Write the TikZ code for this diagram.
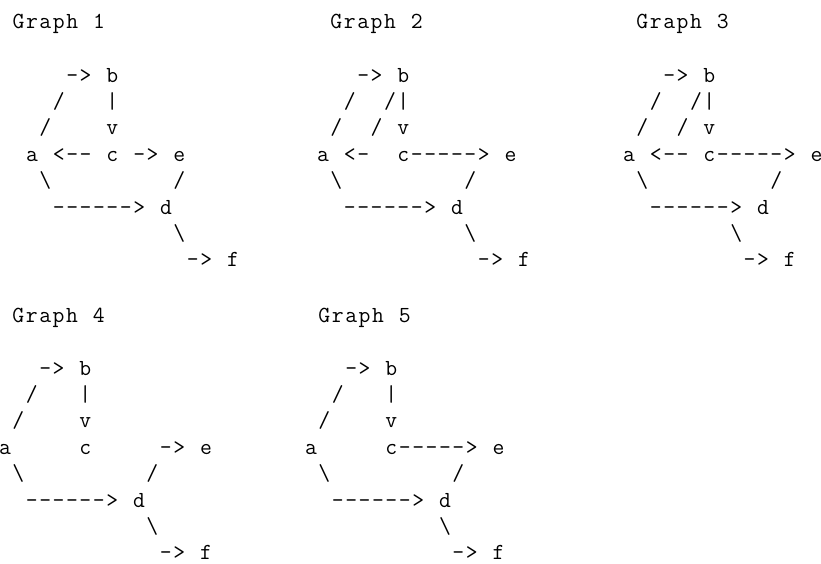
\documentclass[tikz,border=0pt]{standalone}
\newlength\cw
\setlength\cw{13.4pt}
\def\gl#1{\ifx#1\relax\else\makebox[\cw]{\ifx#1.\else#1\fi}\expandafter\gl\fi}
\def\bs{\textbackslash}
\tikzset{asc/.style={anchor=base west, inner sep=0pt, outer sep=0pt,
  text depth=0pt, font=\fontsize{23}{23}\selectfont\ttfamily}}
\begin{document}
\begin{tikzpicture}[x=1pt,y=-1pt]
\fill[white] (0,0) rectangle (821,563);
\useasboundingbox (0,0) rectangle (821,563);
% ---------- Graph 1 ----------
\node[asc] (g1t) at (11.9,28.5) {\gl Graph.1\relax};
\node[asc] (g1a) at (25.3,82.0) {\gl...->.b\relax};
\node[asc] (g1b) at (25.3,108.4) {\gl../...|\relax};
\node[asc] (g1c) at (25.3,134.8) {\gl./....v\relax};
\node[asc] (g1d) at (25.3,161.2) {\gl a.<--.c.->.e\relax};
\node[asc] (g1e) at (25.3,187.6) {\gl.\bs........./\relax};
\node[asc] (g1f) at (25.3,214.0) {\gl..------>.d\relax};
\node[asc] (g1g) at (25.3,240.4) {\gl...........\bs\relax};
\node[asc] (g1h) at (25.3,266.8) {\gl............->.f\relax};
% ---------- Graph 2 ----------
\node[asc] (g2t) at (329.7,28.5) {\gl Graph.2\relax};
\node[asc] (g2a) at (316.3,82.0) {\gl...->.b\relax};
\node[asc] (g2b) at (316.3,108.4) {\gl../../|\relax};
\node[asc] (g2c) at (316.3,134.8) {\gl./../.v\relax};
\node[asc] (g2d) at (316.3,161.2) {\gl a.<-..c----->.e\relax};
\node[asc] (g2e) at (316.3,187.6) {\gl.\bs........./\relax};
\node[asc] (g2f) at (316.3,214.0) {\gl..------>.d\relax};
\node[asc] (g2g) at (316.3,240.4) {\gl...........\bs\relax};
\node[asc] (g2h) at (316.3,266.8) {\gl............->.f\relax};
% ---------- Graph 3 ----------
\node[asc] (g3t) at (635.7,28.5) {\gl Graph.3\relax};
\node[asc] (g3a) at (622.3,82.0) {\gl...->.b\relax};
\node[asc] (g3b) at (622.3,108.4) {\gl../../|\relax};
\node[asc] (g3c) at (622.3,134.8) {\gl./../.v\relax};
\node[asc] (g3d) at (622.3,161.2) {\gl a.<--.c----->.e\relax};
\node[asc] (g3e) at (622.3,187.6) {\gl.\bs........./\relax};
\node[asc] (g3f) at (622.3,214.0) {\gl..------>.d\relax};
\node[asc] (g3g) at (622.3,240.4) {\gl........\bs\relax};
\node[asc] (g3h) at (622.3,266.8) {\gl.........->.f\relax};
% ---------- Graph 4 ----------
\node[asc] (g4t) at (11.7,322.0) {\gl Graph.4\relax};
\node[asc] (g4a) at (-1.7,375.0) {\gl...->.b\relax};
\node[asc] (g4b) at (-1.7,401.4) {\gl../...|\relax};
\node[asc] (g4c) at (-1.7,427.8) {\gl./....v\relax};
\node[asc] (g4d) at (-1.7,454.2) {\gl a.....c.....->.e\relax};
\node[asc] (g4e) at (-1.7,480.6) {\gl.\bs........./\relax};
\node[asc] (g4f) at (-1.7,507.0) {\gl..------>.d\relax};
\node[asc] (g4g) at (-1.7,533.4) {\gl...........\bs\relax};
\node[asc] (g4h) at (-1.7,559.0) {\gl............->.f\relax};
% ---------- Graph 5 ----------
\node[asc] (g5t) at (317.7,322.0) {\gl Graph.5\relax};
\node[asc] (g5a) at (304.3,375.0) {\gl...->.b\relax};
\node[asc] (g5b) at (304.3,401.4) {\gl../...|\relax};
\node[asc] (g5c) at (304.3,427.8) {\gl./....v\relax};
\node[asc] (g5d) at (304.3,454.2) {\gl a.....c----->.e\relax};
\node[asc] (g5e) at (304.3,480.6) {\gl.\bs........./\relax};
\node[asc] (g5f) at (304.3,507.0) {\gl..------>.d\relax};
\node[asc] (g5g) at (304.3,533.4) {\gl..........\bs\relax};
\node[asc] (g5h) at (304.3,559.0) {\gl...........->.f\relax};
\end{tikzpicture}
\end{document}
